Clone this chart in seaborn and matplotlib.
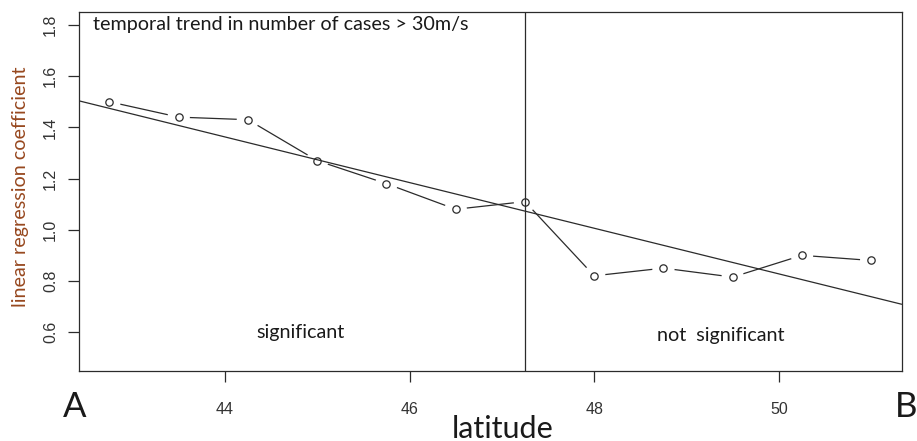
import numpy as np
import pandas as pd
import matplotlib
matplotlib.use("Agg")
import matplotlib.pyplot as plt
import seaborn as sns

# Regression coefficients of the temporal trend along the latitude transect
latitude = [42.75, 43.5, 44.25, 45.0, 45.75, 46.5, 47.25, 48.0, 48.75, 49.5, 50.25, 51.0]
coefficient = [1.50, 1.44, 1.43, 1.27, 1.18, 1.08, 1.11, 0.82, 0.85, 0.815, 0.90, 0.88]
x_ticks = [44, 46, 48, 50]
y_ticks = [0.6, 0.8, 1.0, 1.2, 1.4, 1.6, 1.8]
split_latitude = 47.25

df = pd.DataFrame({"latitude": latitude, "coefficient": coefficient})

sns.set_theme(style="white")
plt.rcParams["font.family"] = ["Lato", "DejaVu Sans"]

ink = "#2b2b2b"
fig = plt.figure(figsize=(9.17, 4.41), dpi=100)
ax = fig.add_axes([0.0861, 0.1587, 0.8972, 0.8148])

# axis ranges padded 4% beyond the data / nominal limits
xr = max(latitude) - min(latitude)
ax.set_xlim(min(latitude) - 0.04 * xr, max(latitude) + 0.04 * xr)
ax.set_ylim(0.5 - 0.04 * 1.3, 1.8 + 0.04 * 1.3)

# connected series with gaps around the points
sns.lineplot(data=df, x="latitude", y="coefficient", ax=ax, color=ink,
             linewidth=0.9, zorder=2)
sns.scatterplot(data=df, x="latitude", y="coefficient", ax=ax, marker="o",
                s=260, color="white", edgecolor="none", linewidth=0, zorder=3)
sns.scatterplot(data=df, x="latitude", y="coefficient", ax=ax, marker="o",
                s=28, facecolor="white", edgecolor=ink, linewidth=0.9, zorder=4)

# least-squares trend line across the whole panel
slope, intercept = np.polyfit(latitude, coefficient, 1)
ax.axline((0, intercept), slope=slope, color=ink, linewidth=0.9, zorder=5)

# boundary between significant / not significant regions
ax.axvline(split_latitude, color=ink, linewidth=0.9, zorder=5)

for s in ax.spines.values():
    s.set_color(ink)
    s.set_linewidth(0.9)

ax.set_xticks(x_ticks)
ax.set_xticklabels([str(t) for t in x_ticks], family="Liberation Sans",
                   fontsize=11.5, color="#333333")
ax.set_yticks(y_ticks)
ax.set_yticklabels([f"{t:.1f}" for t in y_ticks], family="Liberation Sans",
                   fontsize=11.5, color="#333333", rotation=90, va="center")
ax.tick_params(axis="both", direction="out", length=8, width=0.9, color=ink,
               bottom=True, left=True)
ax.tick_params(axis="x", pad=14)
ax.tick_params(axis="y", pad=7)

ax.set_xlabel("")
ax.set_ylabel("")
fig.text(0.022, 0.576, "linear regression coefficient", fontsize=14.2,
         color="#97481f", rotation=90, ha="center", va="center")

ax.text(0.017, 0.963, "temporal trend in number of cases > 30m/s",
        transform=ax.transAxes, fontsize=14.2, color="#1a1a1a",
        ha="left", va="center")
ax.text(44.82, 0.597, "significant", fontsize=14.2, color="#1a1a1a",
        ha="center", va="center")
ax.text(49.37, 0.585, "not  significant", fontsize=14.2, color="#1a1a1a",
        ha="center", va="center")

fig.text(0.548, 0.028, "latitude", fontsize=22, color="#1a1a1a",
         ha="center", va="center")
fig.text(0.081, 0.078, "A", fontsize=25, color="#1a1a1a", ha="center", va="center")
fig.text(0.988, 0.078, "B", fontsize=25, color="#1a1a1a", ha="center", va="center")

fig.savefig("out.png", dpi=100)
